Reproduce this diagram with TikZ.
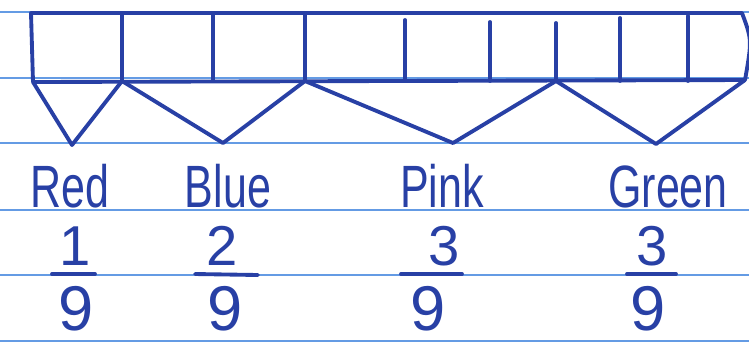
\documentclass[tikz,border=0pt]{standalone}
\usepackage{fontspec}
\setmainfont{Liberation Sans}
\definecolor{ink}{RGB}{40,64,165}
\definecolor{ruling}{RGB}{100,155,228}

\begin{document}
\begin{tikzpicture}[x=0.02cm, y=-0.02cm, line join=round, line cap=round,
    pen/.style={draw=ink, line width=2.2pt},
    word/.style={text=ink, anchor=base, inner sep=0pt, xscale=0.72, transform shape, font=\fontsize{34}{36}\selectfont},
    numer/.style={text=ink, anchor=base, inner sep=0pt, font=\fontsize{32}{34}\selectfont},
    denom/.style={text=ink, anchor=base, inner sep=0pt, font=\fontsize{36}{38}\selectfont}]
    \useasboundingbox (0,0) rectangle (749,343);

    % Ruled paper
    \foreach \y in {12,78,143,210,275,341}
        \draw[ruling, line width=1.2pt] (0,\y) -- (749,\y);

    % Strip of nine parts
    \coordinate (d0) at (33,82);
    \coordinate (d9) at (745,80);
    \draw[pen] (31,13) -- (742,13) .. controls (752,40) .. (d9) -- (d0) -- cycle;
    \foreach \x/\n/\t in {122/1/14,213/2/14,305/3/14,405/4/20,490/5/22,556/6/23,620/7/18,688/8/16} {
        \coordinate (d\n) at (\x,81);
        \draw[pen] (\x,\t) -- (d\n);
    }

    % Brackets
    \coordinate (redtip) at (72,145);
    \coordinate (bluetip) at (223,143);
    \coordinate (pinktip) at (453,143);
    \coordinate (greentip) at (656,144);
    \draw[pen] (d0) -- (redtip) -- (d1);
    \draw[pen] (d1) -- (bluetip) -- (d3);
    \draw[pen] (d3) -- (pinktip) -- (d6);
    \draw[pen] (d6) -- (greentip) -- (d9);

    % Labels
    \node[word] (red) at (70,207) {Red};
    \node[word] (blue) at (228,207) {Blue};
    \node[word] (pink) at (442,207) {Pink};
    \node[word] (green) at (668,207) {Green};

    % Fractions
    \node[numer] (n1) at (75,265) {1};
    \node[numer] (n2) at (222,265) {2};
    \node[numer] (n3) at (444,265) {3};
    \node[numer] (n4) at (652,265) {3};
    \draw[pen] (52,274) -- (95,274);
    \draw[pen] (195,274) -- (258,275);
    \draw[pen] (401,274) -- (462,274);
    \draw[pen] (627,274) -- (676,274);
    \node[denom] (q1) at (76,330) {9};
    \node[denom] (q2) at (225,330) {9};
    \node[denom] (q3) at (428,330) {9};
    \node[denom] (q4) at (648,330) {9};
\end{tikzpicture}
\end{document}
